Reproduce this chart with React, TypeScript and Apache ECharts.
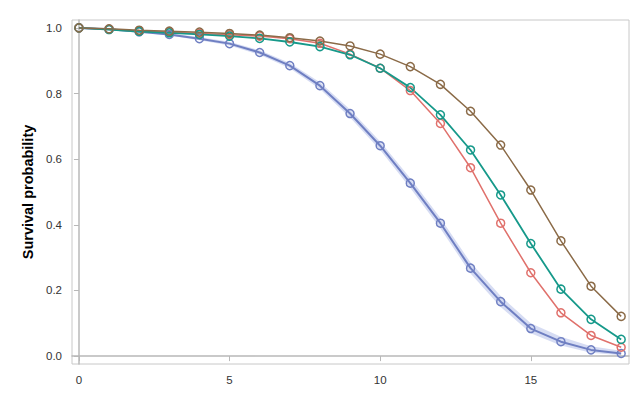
import React, { useEffect, useRef } from "react";
import * as echarts from "echarts";

const times = [0, 1, 2, 3, 4, 5, 6, 7, 8, 9, 10, 11, 12, 13, 14, 15, 16, 17, 18];
const blue = [1.0, 0.996, 0.988, 0.98, 0.967, 0.952, 0.925, 0.885, 0.824, 0.739, 0.641, 0.527, 0.405, 0.268, 0.166, 0.084, 0.044, 0.019, 0.008];
const blueLower = [1.0, 0.995, 0.986, 0.977, 0.962, 0.946, 0.918, 0.877, 0.814, 0.727, 0.628, 0.512, 0.389, 0.252, 0.15, 0.07, 0.032, 0.01, 0.003];
const blueUpper = [1.0, 0.997, 0.99, 0.983, 0.972, 0.958, 0.932, 0.893, 0.834, 0.751, 0.654, 0.542, 0.421, 0.285, 0.183, 0.1, 0.059, 0.03, 0.016];
const red = [1.0, 0.996, 0.99, 0.987, 0.983, 0.979, 0.975, 0.967, 0.953, 0.92, 0.877, 0.809, 0.709, 0.574, 0.405, 0.254, 0.132, 0.063, 0.027];
const green = [1.0, 0.995, 0.989, 0.985, 0.98, 0.975, 0.968, 0.957, 0.943, 0.918, 0.877, 0.818, 0.735, 0.628, 0.491, 0.343, 0.204, 0.112, 0.051];
const brown = [1.0, 0.997, 0.993, 0.99, 0.987, 0.983, 0.978, 0.97, 0.96, 0.945, 0.92, 0.882, 0.828, 0.746, 0.643, 0.506, 0.351, 0.213, 0.121];
const yTicks = [0, 0.2, 0.4, 0.6, 0.8, 1.0];
const xTicks = [0, 5, 10, 15];

export default function App() {
  const ref = useRef<HTMLDivElement>(null);
  useEffect(() => {
    if (!ref.current) return;
    const chart = echarts.init(ref.current, null, { renderer: "svg" });
    const pts = (arr: number[]) => arr.map((v, i) => [times[i], v]);
    const line = (name: string, arr: number[], color: string, width: number) => ({
      name,
      type: "line",
      data: pts(arr),
      symbol: "circle",
      symbolSize: 8,
      showSymbol: true,
      lineStyle: { color, width },
      itemStyle: { color: "rgba(255,255,255,0)", borderColor: color, borderWidth: 1.5 },
      z: 5,
    });
    const bandData = times.map((t, i) => [t, blueLower[i], blueUpper[i]]);
    chart.setOption({
      animation: false,
      backgroundColor: "#ffffff",
      grid: {
        left: 72,
        right: 11,
        top: 20,
        bottom: 36,
        show: true,
        borderColor: "#c8c8c8",
        borderWidth: 1,
        backgroundColor: "#ffffff",
      },
      xAxis: {
        type: "value",
        min: -0.23,
        max: 18.26,
        axisLine: { show: true, lineStyle: { color: "#b8b8b8", width: 1.5 } },
        axisTick: { show: true, length: 5, lineStyle: { color: "#b8b8b8" }, customValues: xTicks },
        axisLabel: {
          color: "#333",
          fontSize: 11.5,
          fontFamily: "Arial, Liberation Sans, sans-serif",
          margin: 10,
          customValues: xTicks,
        },
        splitLine: { show: false },
      },
      yAxis: {
        type: "value",
        min: -0.024,
        max: 1.024,
        name: "Survival probability",
        nameLocation: "middle",
        nameGap: 37,
        nameTextStyle: {
          color: "#000",
          fontSize: 14.5,
          fontWeight: "bold",
          fontFamily: "Arial, Liberation Sans, sans-serif",
        },
        axisLine: { show: true, lineStyle: { color: "#b8b8b8", width: 1.5 } },
        axisTick: { show: true, length: 5, lineStyle: { color: "#b8b8b8" }, customValues: yTicks },
        axisLabel: {
          color: "#333",
          fontSize: 11.5,
          fontFamily: "Arial, Liberation Sans, sans-serif",
          margin: 10,
          customValues: yTicks,
          formatter: (v: number) => v.toFixed(1),
        },
        splitLine: { show: false },
      },
      series: [
        {
          name: "band",
          type: "custom",
          data: bandData,
          encode: { x: 0, y: [1, 2] },
          renderItem: (params: any, api: any) => {
            if (params.dataIndex !== 0) return null;
            const upper: number[][] = [];
            const lower: number[][] = [];
            for (let i = 0; i < bandData.length; i++) {
              upper.push(api.coord([bandData[i][0], bandData[i][2]]));
              lower.push(api.coord([bandData[i][0], bandData[i][1]]));
            }
            return {
              type: "polygon",
              shape: { points: upper.concat(lower.reverse()) },
              style: { fill: "rgba(120,140,215,0.3)", stroke: "none" },
            };
          },
          z: 1,
          silent: true,
        },
        line("blue", blue, "#6f7fc2", 2),
        line("red", red, "#e0716c", 1.5),
        line("green", green, "#16998a", 1.8),
        line("brown", brown, "#8b6b48", 1.5),
      ],
    });
    return () => chart.dispose();
  }, []);
  return <div ref={ref} style={{ width: 640, height: 400, margin: "-8px" }} />;
}
